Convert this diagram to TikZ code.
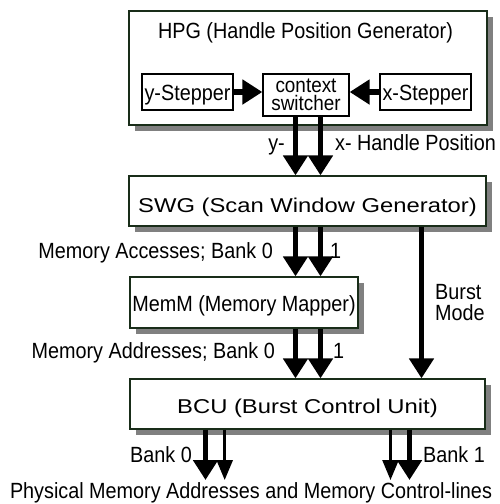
\documentclass[tikz,border=0pt]{standalone}
\usepackage{fontspec}
\setmainfont{Liberation Sans}
\newfontfamily\narrowfont[FakeStretch=0.9]{Liberation Sans}
\newfontfamily\wideface[FakeStretch=1.19]{Liberation Sans}
\usetikzlibrary{arrows.meta,shadows}
\definecolor{boxline}{RGB}{25,45,25}
\definecolor{shadowgray}{RGB}{128,128,128}
\tikzset{
  unit/.style={draw=boxline, line width=1.3pt, fill=white, inner sep=0pt,
    drop shadow={shadow xshift=6pt, shadow yshift=-6pt, fill=shadowgray, opacity=1}},
  sub/.style={draw=black, line width=1.3pt, fill=white, inner sep=0pt},
  lbl/.style={font=\narrowfont\fontsize{22}{17.5}\selectfont, inner sep=0pt},
  bigtxt/.style={font=\wideface\fontsize{20}{20}\selectfont},
  bus/.style={line width=5.5pt, -{Triangle[length=20pt,width=24pt]}},
  wire/.style={line width=2.5pt, -{Triangle[length=20pt,width=16pt]}},
}
\begin{document}
\begin{tikzpicture}[x=1pt,y=-1pt]
\useasboundingbox (0,0) rectangle (499,504);

% handle position generator and its parts
\node[unit, minimum width=358pt, minimum height=114pt] (hpg) at (308,68) {};
\node[lbl, anchor=base] (hpgtitle) at (305.5,38) {HPG (Handle Position Generator)};
\node[sub, lbl, minimum width=91pt, minimum height=36pt, text height=16pt, text depth=0pt] (ystep) at (187.5,92) {y-Stepper};
\node[sub, lbl, font=\narrowfont\fontsize{21}{18}\selectfont, minimum width=86pt, minimum height=42pt, align=center] (ctx) at (306,95) {context\\switcher};
\node[sub, lbl, minimum width=91pt, minimum height=36pt, text height=16pt, text depth=0pt] (xstep) at (425.5,92) {x-Stepper};

% lower units
\node[unit, bigtxt, minimum width=357pt, minimum height=50pt, text height=22pt, text depth=0pt] (swg) at (307.5,201) {SWG (Scan Window Generator)};
\node[unit, lbl, minimum width=228pt, minimum height=51pt, text height=17pt, text depth=0pt] (memm) at (244,302.5) {MemM (Memory Mapper)};
\node[unit, bigtxt, minimum width=355pt, minimum height=50pt, text height=18pt, text depth=0pt] (bcu) at (307.5,404) {BCU (Burst Control Unit)};

% bus columns
\coordinate (colA) at (295.5,0);
\coordinate (colB) at (320.5,0);
\coordinate (colC) at (421.5,0);
\coordinate (outA) at (205.5,480);
\coordinate (outB) at (224.7,480);
\coordinate (outC) at (390.5,480);
\coordinate (outD) at (409.5,480);

% connections
\draw[bus] (ystep.east) -- (ystep.east -| ctx.west);
\draw[bus] (xstep.west) -- (xstep.west -| ctx.east);
\draw[bus] (ctx.south -| colA) -- (swg.north -| colA);
\draw[bus] (ctx.south -| colB) -- (swg.north -| colB);
\draw[bus] (swg.south -| colA) -- (memm.north -| colA);
\draw[bus] (swg.south -| colB) -- (memm.north -| colB);
\draw[bus] (memm.south -| colA) -- (bcu.north -| colA);
\draw[bus] (memm.south -| colB) -- (bcu.north -| colB);
\draw[bus] (swg.south -| colC) -- (bcu.north -| colC);
\draw[bus] (bcu.south -| outA) -- (outA);
\draw[wire] (bcu.south -| outB) -- (outB);
\draw[wire] (bcu.south -| outC) -- (outC);
\draw[bus] (bcu.south -| outD) -- (outD);

% labels
\node[lbl, anchor=base east] (ylab) at (285,150) {y-};
\node[lbl, anchor=base west] (xlab) at (335,150) {x- Handle Position};
\node[lbl, anchor=base east] (accA) at (273,258) {Memory Accesses; Bank 0};
\node[lbl, anchor=base west] (accB) at (330,258) {1};
\node[lbl, anchor=base west] (burstA) at (435,299) {Burst};
\node[lbl, anchor=base west] (burstB) at (435,320) {Mode};
\node[lbl, anchor=base east] (addrA) at (275,358) {Memory Addresses; Bank 0};
\node[lbl, anchor=base west] (addrB) at (333,358) {1};
\node[lbl, anchor=base east] (bank0) at (192,462) {Bank 0};
\node[lbl, anchor=base west] (bank1) at (423,462) {Bank 1};
\node[lbl, anchor=base] (phys) at (251,498) {Physical Memory Addresses and Memory Control-lines};
\end{tikzpicture}
\end{document}
